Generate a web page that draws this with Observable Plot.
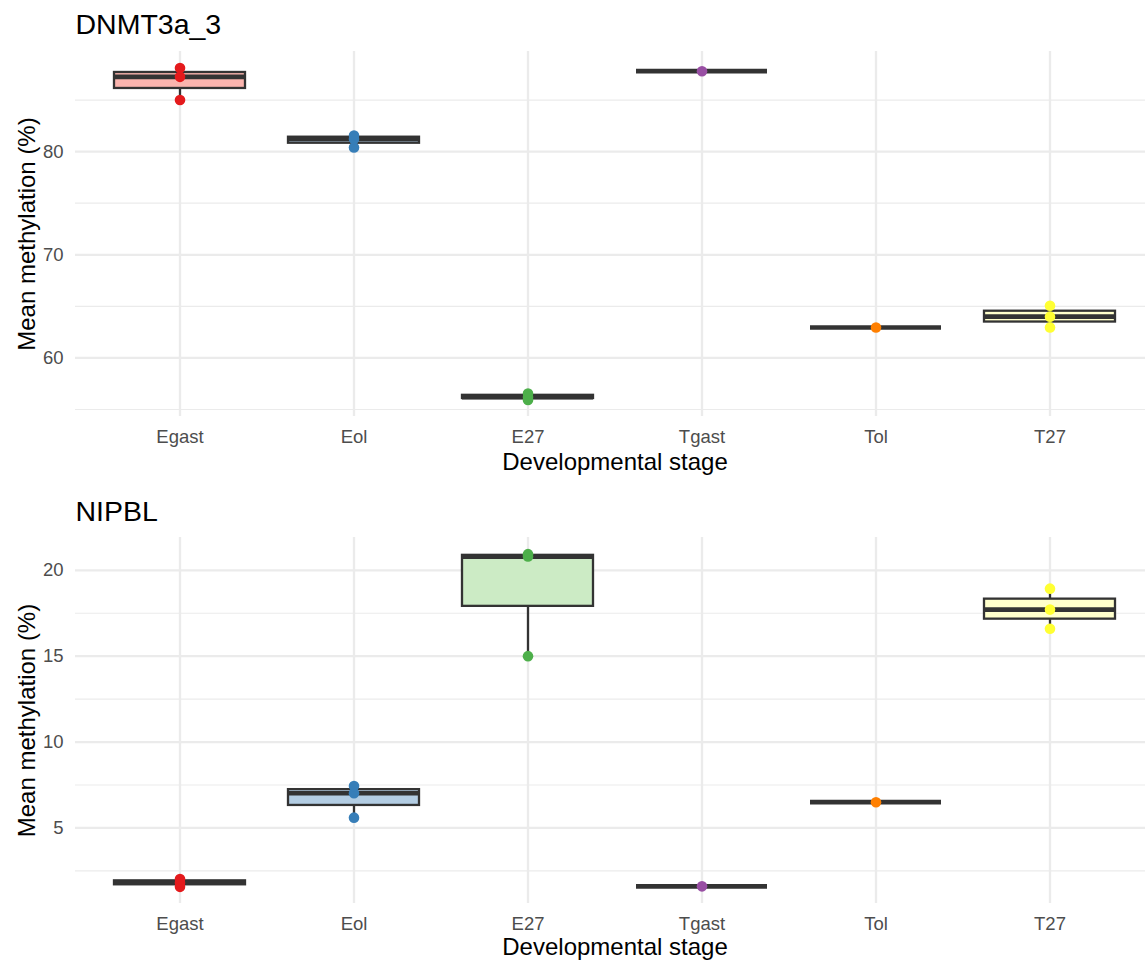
<!DOCTYPE html>
<html>
<head>
<meta charset="utf-8">
<script src="https://cdn.jsdelivr.net/npm/d3@7"></script>
<script src="https://cdn.jsdelivr.net/npm/@observablehq/plot@0.6"></script>
<style>
  html, body { margin: 0; padding: 0; background: #ffffff; }
  #chart svg { display: block; }
</style>
</head>
<body>
<div id="chart"></div>
<script>
// ---- data ----
const stages = ["Egast", "Eol", "E27", "Tgast", "Tol", "T27"];
const pointColors = ["#E41A1C", "#377EB8", "#4DAF4A", "#984EA3", "#FF7F00", "#FFFF33"];
const boxFills = ["#FBB4AE", "#B3CDE3", "#CCEBC5", "#DECBE4", "#FED9A6", "#FFFFCC"];

const dnmt3a3Title = "DNMT3a_3";
const dnmt3a3Values = [
  [85.0, 87.25, 88.1],
  [80.4, 81.23, 81.57],
  [55.93, 56.2, 56.55],
  [87.8],
  [62.95],
  [62.96, 64.0, 65.06]
];
const dnmt3a3MajorTicks = [60, 70, 80];
const dnmt3a3MinorTicks = [55, 65, 75, 85];

const nipblTitle = "NIPBL";
const nipblValues = [
  [1.57, 1.81, 2.03],
  [5.6, 7.02, 7.44],
  [15.0, 20.8, 20.94],
  [1.6],
  [6.5],
  [16.6, 17.71, 18.93]
];
const nipblMajorTicks = [5, 10, 15, 20];
const nipblMinorTicks = [2.5, 7.5, 12.5, 17.5];

const xLabel = "Developmental stage";
const yLabel = "Mean methylation (%)";

// ---- helpers ----
function boxStats(values) {
  return stages.map((stage, i) => {
    const s = values[i].slice().sort(d3.ascending);
    const q1 = d3.quantileSorted(s, 0.25);
    const med = d3.quantileSorted(s, 0.5);
    const q3 = d3.quantileSorted(s, 0.75);
    const iqr = q3 - q1;
    const lo = d3.min(s.filter(v => v >= q1 - 1.5 * iqr));
    const hi = d3.max(s.filter(v => v <= q3 + 1.5 * iqr));
    return {stage, q1, med, q3, lo, hi, fill: boxFills[i]};
  });
}

function panel(title, values, major, minor, m) {
  const stats = boxStats(values);
  const pts = values.flatMap((vals, i) => vals.map(v => ({stage: stages[i], value: v, color: pointColors[i]})));
  const ext = d3.extent(pts, d => d.value);
  const pad = (ext[1] - ext[0]) * 0.05;
  const dark = "#333333";
  const grid = "#EBEBEB";
  return Plot.plot({
    width: 1145,
    height: m.height,
    marginLeft: 75,
    marginRight: 0,
    marginTop: m.top,
    marginBottom: m.bottom,
    style: {fontFamily: "'Liberation Sans', Arial, Helvetica, sans-serif", background: "#ffffff", overflow: "visible"},
    color: {type: "identity"},
    x: {type: "band", domain: stages, range: [74.5, 1154.5], paddingInner: 0.25, paddingOuter: 0.225},
    y: {domain: [ext[0] - pad, ext[1] + pad]},
    marks: [
      Plot.gridY(minor, {stroke: grid, strokeOpacity: 1, strokeWidth: 1.2}),
      Plot.gridY(major, {stroke: grid, strokeOpacity: 1, strokeWidth: 2.3}),
      Plot.gridX(stages, {stroke: grid, strokeOpacity: 1, strokeWidth: 2.3}),
      Plot.axisY(major, {tickSize: 0, tickPadding: 12, fontSize: 18.5, fill: "#4D4D4D", label: null}),
      Plot.axisX(stages, {tickSize: 0, tickPadding: 13, fontSize: 18.5, fill: "#4D4D4D", label: null}),
      Plot.ruleX(stats, {x: "stage", y1: "lo", y2: "q1", stroke: dark, strokeWidth: 2.3}),
      Plot.ruleX(stats, {x: "stage", y1: "q3", y2: "hi", stroke: dark, strokeWidth: 2.3}),
      Plot.barY(stats, {x: "stage", y1: "q1", y2: "q3", fill: "fill", stroke: dark, strokeWidth: 2.3}),
      Plot.tickY(stats, {x: "stage", y: "med", stroke: dark, strokeWidth: 4.7}),
      Plot.dot(pts, {x: "stage", y: "value", fill: "color", r: 5.3}),
      Plot.text([title], {frameAnchor: "top-left", textAnchor: "start", lineAnchor: "middle", dy: m.titleDy, fontSize: 28.5, fill: "#000000"}),
      Plot.text([xLabel], {frameAnchor: "bottom", textAnchor: "middle", lineAnchor: "middle", dx: 4.5, dy: m.xLabelDy, fontSize: 24, fill: "#000000"}),
      Plot.text([yLabel], {frameAnchor: "left", textAnchor: "middle", lineAnchor: "middle", rotate: -90, dx: -48.5, fontSize: 24, fill: "#000000"})
    ]
  });
}

const chart = document.getElementById("chart");
chart.append(panel(dnmt3a3Title, dnmt3a3Values, dnmt3a3MajorTicks, dnmt3a3MinorTicks,
  {height: 481, top: 51, bottom: 65, titleDy: -27, xLabelDy: 46}));
chart.append(panel(nipblTitle, nipblValues, nipblMajorTicks, nipblMinorTicks,
  {height: 481, top: 56, bottom: 59, titleDy: -26, xLabelDy: 44}));
</script>
</body>
</html>
